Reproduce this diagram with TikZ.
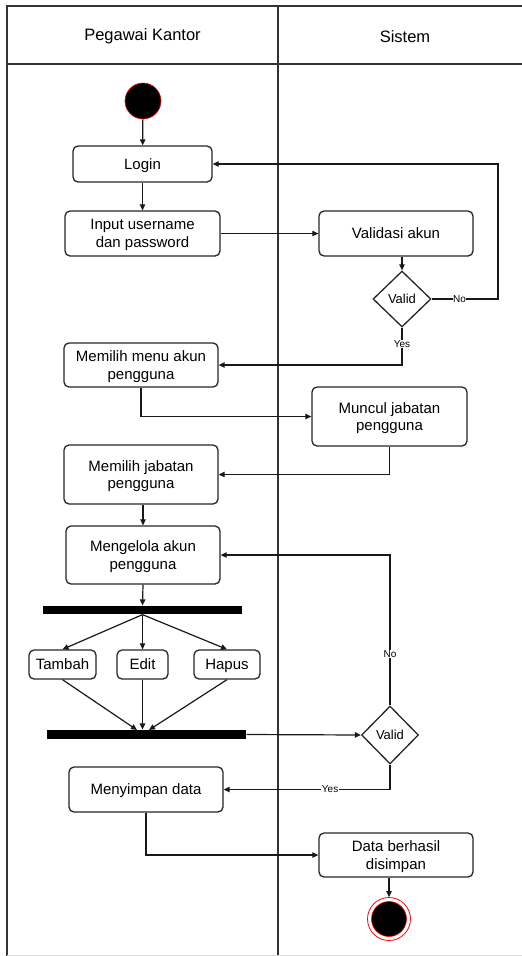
\documentclass[tikz,border=0pt]{standalone}
\usepackage{fontspec}
\setmainfont{Liberation Sans}
\usetikzlibrary{arrows.meta,shapes.geometric,calc}
\begin{document}
\begin{tikzpicture}[x=1pt,y=-1pt,
  line width=1.2pt,
  every node/.style={font=\fontsize{15}{17.5}\selectfont},
  box/.style={draw=black!85, rectangle, rounded corners=5pt, fill=white, align=center, inner sep=0pt, line width=1.3pt, text depth=-2pt},
  dia/.style={draw=black!85, diamond, aspect=1, fill=white, inner sep=0pt, line width=1.3pt},
  bar/.style={fill=black, draw=none, rectangle, inner sep=0pt},
  flow/.style={draw=black!90, line width=1.2pt, -{Triangle[length=6pt,width=5.5pt]}},
  lbl/.style={fill=white, inner sep=0.5pt, font=\fontsize{10}{11}\selectfont},
  hdr/.style={font=\fontsize{16.5}{18}\selectfont}
]
\useasboundingbox (0,0) rectangle (522,956);
% swimlanes
\draw[black!80, line width=1.5pt] (7,956) -- (7,6) -- (523,6);
\draw[black!80, line width=1.5pt] (7,64) -- (523,64);
\draw[black!80, line width=1.5pt] (278,6) -- (278,956);
\draw[black!15, line width=1pt] (7,955) -- (522,955);
\node[hdr] (h1) at (142.5,36.5) {Pegawai Kantor};
\node[hdr] (h2) at (405,36.5) {Sistem};

% nodes
\node[circle, fill=black, draw=red, line width=0.6pt, minimum size=36pt, inner sep=0pt] (start) at (143,101) {};
\node[box, minimum width=139, minimum height=36] (login) at (142.5,164) {Login};
\node[box, minimum width=155, minimum height=45] (input) at (142.5,233.5) {Input username\\dan password};
\node[box, minimum width=154, minimum height=45] (valid) at (396,233.5) {Validasi akun};
\node[dia, minimum width=58, minimum height=56] (d1) at (402,299) {\fontsize{13}{14}\selectfont Valid};
\node[box, minimum width=154, minimum height=44] (menu) at (141,365) {Memilih menu akun\\pengguna};
\node[box, minimum width=155, minimum height=59] (muncul) at (389.5,416.5) {Muncul jabatan\\pengguna};
\node[box, minimum width=154, minimum height=59] (jabatan) at (141,474.5) {Memilih jabatan\\pengguna};
\node[box, minimum width=154, minimum height=58] (kelola) at (143,555) {Mengelola akun\\pengguna};
\node[bar, minimum width=199, minimum height=8] (fork) at (142.5,610) {};
\node[box, minimum width=67, minimum height=29] (tambah) at (62.5,664.5) {Tambah};
\node[box, minimum width=51, minimum height=29] (edit) at (142.5,664.5) {Edit};
\node[box, minimum width=66, minimum height=29] (hapus) at (227,664.5) {Hapus};
\node[bar, minimum width=199, minimum height=9] (join) at (146.5,734.5) {};
\node[dia, minimum width=57, minimum height=58] (d2) at (390,735) {\fontsize{13}{14}\selectfont Valid};
\node[box, minimum width=154, minimum height=45] (simpan) at (146,789.5) {Menyimpan data};
\node[box, minimum width=154, minimum height=44] (data) at (396,855) {Data berhasil\\disimpan};
\node[circle, draw=red, line width=0.8pt, fill=white, minimum size=43pt, inner sep=0pt] (end) at (389,919) {};
\node[circle, fill=black, draw=red, line width=0.6pt, minimum size=35pt, inner sep=0pt] (endin) at (389,919) {};

\coordinate (noR) at (498,299);
\coordinate (j1) at (137,730);
\coordinate (j3) at (149,730);

% connectors
\draw[flow] (start) -- (login);
\draw[flow] (login) -- (input);
\draw[flow] (input.east) -- (valid.west);
\draw[flow] (d1.north |- valid.south) -- (d1.north);
\draw[flow] (d1.east) -- node[lbl, pos=0.42] {No} (noR) |- (login.east);
\draw[flow] (d1.south) |- node[lbl, pos=0.22] {Yes} (menu.east);
\draw[flow] (menu.south) |- (muncul.west);
\draw[flow] (muncul.south) |- (jabatan.east);
\draw[flow] (kelola.north |- jabatan.south) -- (kelola.north);
\draw[flow] (kelola.south) -- (fork.north);
\draw[flow] (fork.south) -- (tambah.north);
\draw[flow] (fork.south) -- (edit.north);
\draw[flow] (fork.south) -- (hapus.north);
\draw[flow] (tambah.south) -- (j1);
\draw[flow] (edit.south) -- (edit.south |- join.north);
\draw[flow] (hapus.south) -- (j3);
\draw[flow] (join.east) -- (d2.west);
\draw[flow] (d2.north) |- node[lbl, pos=0.17] {No} (kelola.east);
\draw[flow] (d2.south) |- node[lbl, pos=0.68] {Yes} (simpan.east);
\draw[flow] (simpan.south) |- (data.west);
\draw[flow] (end.north |- data.south) -- (end.north);
\end{tikzpicture}
\end{document}
